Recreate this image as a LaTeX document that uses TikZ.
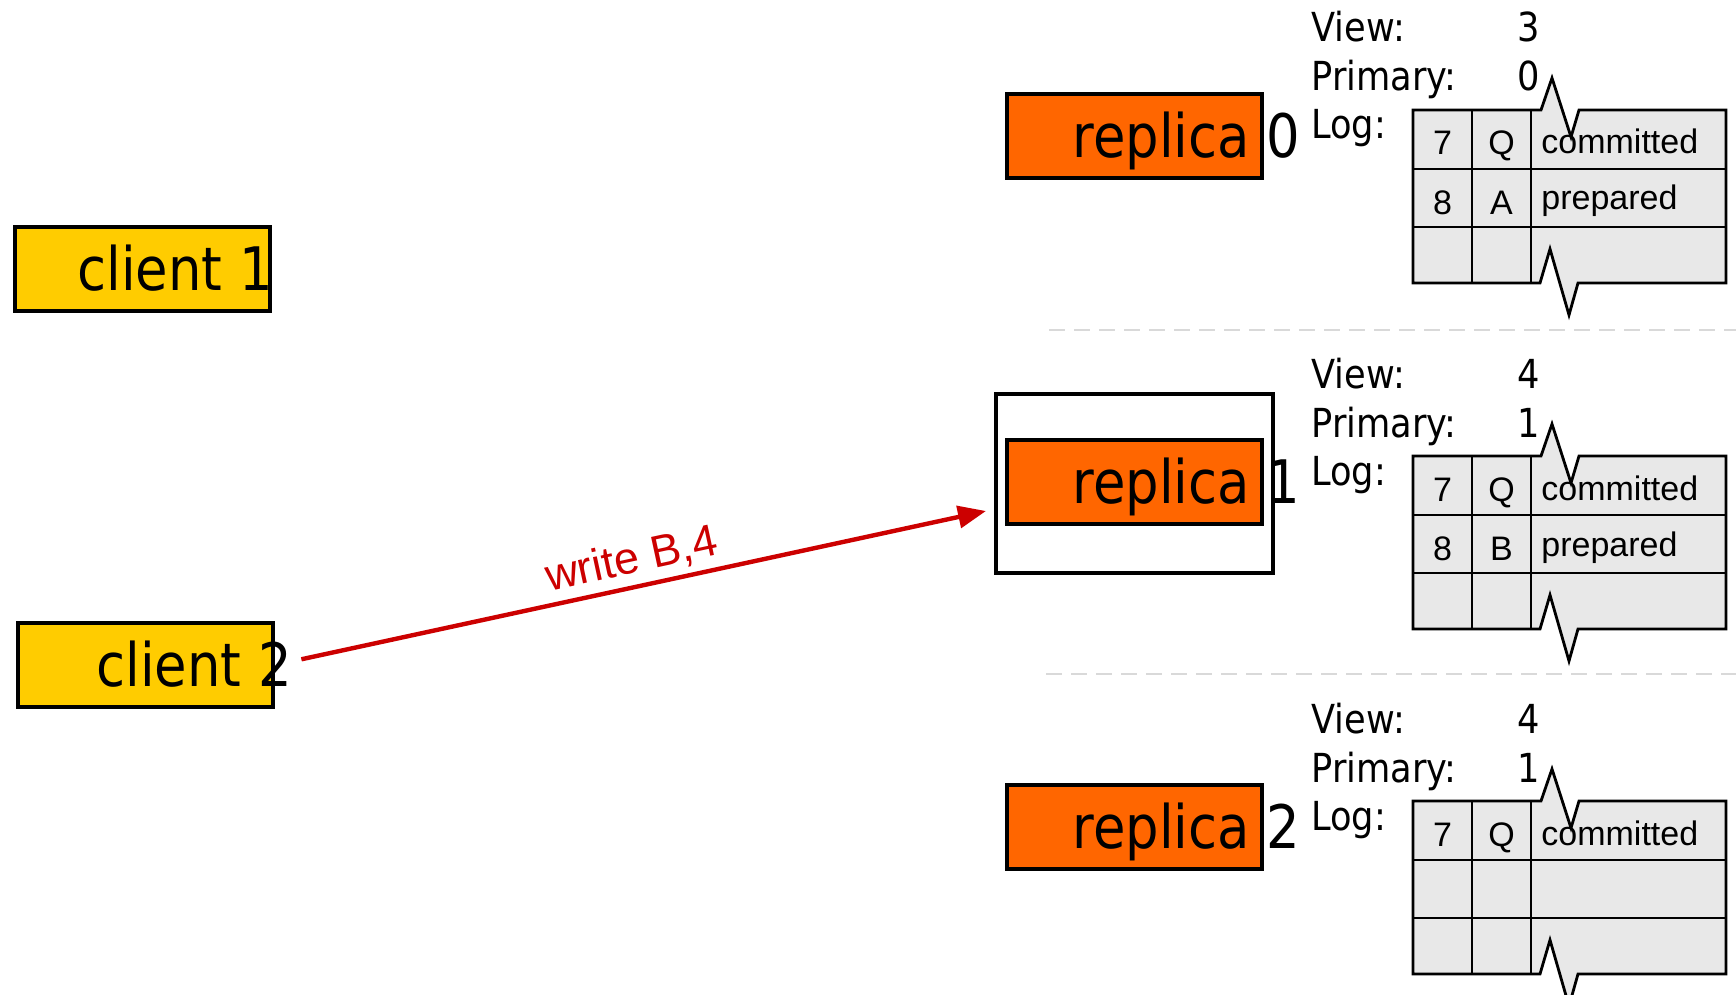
\documentclass[tikz,border=0pt]{standalone}
\usepackage{fontspec}
\setmainfont{DejaVu Sans}[FakeStretch=0.88]
\newfontfamily\tabfont{Liberation Sans}
\usepackage{tikz}
\usetikzlibrary{arrows.meta,positioning}

\definecolor{replicaorange}{HTML}{FF6600}
\definecolor{clientyellow}{HTML}{FFCC00}
\definecolor{msgred}{HTML}{CC0000}
\definecolor{loggray}{HTML}{E8E8E8}
\definecolor{sepgray}{HTML}{D9D9D9}

\tikzset{
  hostbox/.style={draw=black, line width=2pt, minimum width=127.5pt, minimum height=42pt, inner sep=0pt},
  clientbox/.style={hostbox, fill=clientyellow},
  replicabox/.style={hostbox, fill=replicaorange},
  biglabel/.style={anchor=base west, inner sep=0pt, font=\fontsize{30}{36}\selectfont},
  infotext/.style={anchor=base west, inner sep=0pt, font=\fontsize{20}{24}\selectfont},
  celltext/.style={anchor=base, inner sep=0pt, font=\tabfont\fontsize{17}{20}\selectfont},
  sepline/.style={sepgray, line width=1.2pt, dash pattern=on 8pt off 4.5pt},
  writearrow/.style={msgred, line width=2.2pt, -{Triangle[length=14pt,width=11pt]}}
}

\begin{document}
\begin{tikzpicture}[x=0.5pt,y=-0.5pt]
\useasboundingbox (0,0) rectangle (1736,995);
% clients
\node[clientbox] (client1) at (142,269) {};
\node[biglabel] (client1lbl) at (77,290) {client 1};
\node[clientbox] (client2) at (145.5,665) {};
\node[biglabel] (client2lbl) at (96,686) {client 2};
% separators between the replicas
\draw[sepline] (1049,330) -- (1736,330);
\draw[sepline] (1046,674) -- (1736,674);
% frame round replica 1
\node[draw, line width=2pt, fill=white, minimum width=138.5pt, minimum height=89.5pt] (rep1frame) at (1134.5,483.5) {};
% replicas with state and log
\foreach \i/\T/\vw/\pr in {0/110/3/0, 1/456/4/1, 2/801/4/1} {
  \begin{scope}[shift={(1413,\T)}]
  \node[replicabox] (rep\i) at (-278.5,26) {};
  \node[biglabel] (replbl\i) at (-341,47) {replica \i};
  \node[infotext] (view\i) at (-102,-68) {View:};
  \node[infotext] (viewval\i) at (104,-68) {\vw};
  \node[infotext] (prim\i) at (-102,-19) {Primary:};
  \node[infotext] (primval\i) at (104,-19) {\pr};
  \node[infotext] (log\i) at (-102,29) {Log:};
  \filldraw[fill=loggray, line width=1.4pt] (0,0) -- (128,0) -- (139,-32) -- (158,27) -- (166,0)
    -- (313,0) -- (313,173) -- (165,173) -- (156,205) -- (137,139) -- (127,173) -- (0,173) -- cycle;
  \draw[line width=1.4pt] (0,59) -- (313,59) (0,117) -- (313,117) (59,0) -- (59,173) (118,0) -- (118,173);
  \node[celltext] (seq\i) at (29.5,45) {7};
  \node[celltext] (op\i) at (88.5,45) {Q};
  \node[celltext, anchor=base west] (stat\i) at (128,44) {committed};
  \end{scope}
}
% second log entries
\node[celltext] (seqb0) at (1442.5,214) {8};
\node[celltext] (opb0) at (1501.5,214) {A};
\node[celltext, anchor=base west] (statb0) at (1541,210) {prepared};
\node[celltext] (seqb1) at (1442.5,560) {8};
\node[celltext] (opb1) at (1501.5,560) {B};
\node[celltext, anchor=base west] (statb1) at (1541,556) {prepared};
% request from client 2
\coordinate (writehit) at (986,511);
\draw[writearrow, shorten <=13.5pt] (client2.east) -- node[sloped, above=1pt, pos=0.51, inner sep=2pt, text=msgred, font=\tabfont\fontsize{22.5}{26}\selectfont] (writelbl) {write B,4} (writehit);
\end{tikzpicture}
\end{document}
